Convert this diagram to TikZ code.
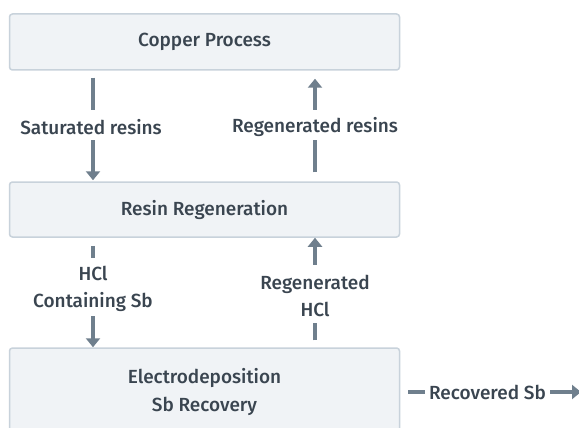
\documentclass[tikz,border=0pt]{standalone}
\usepackage{fontspec}
\setmainfont{Fira Sans}[UprightFont=* Medium]
\usetikzlibrary{arrows.meta}
\definecolor{boxfill}{HTML}{F0F3F6}
\definecolor{boxline}{HTML}{C8D2DB}
\definecolor{conncol}{HTML}{6F7F8D}
\definecolor{txtcol}{HTML}{3A4550}
\begin{document}
\begin{tikzpicture}[x=1pt,y=1pt,
  procbox/.style={draw=boxline, line width=1.5pt, fill=boxfill, rounded corners=3pt, text=txtcol, font=\fontsize{19}{28}\selectfont, align=center},
  lbl/.style={text=txtcol, font=\fontsize{19}{27}\selectfont, align=center, inner sep=0pt},
  conn/.style={draw=conncol, line width=4pt},
  tip/.style={-{Triangle[width=14pt,length=9pt]}}
]
\clip (0,0) rectangle (579,-428);
\fill[white] (0,0) rectangle (579,-428);
% boxes
\node[procbox, minimum width=390pt, minimum height=56pt] (cu) at (204.5,-42) {Copper Process};
\node[procbox, minimum width=390pt, minimum height=55pt] (rr) at (204.5,-209.5) {Resin Regeneration};
\node[procbox, minimum width=390pt, minimum height=88pt] (ed) at (204.5,-392) {Electrodeposition\\Sb Recovery};
% labels
\node[lbl, minimum height=34pt] (sat) at (91,-127) {Saturated resins};
\node[lbl, minimum height=34pt] (regres) at (315,-127) {Regenerated resins};
\node[lbl, minimum height=61pt] (hcl) at (93,-288.5) {HCl\\Containing Sb};
\node[lbl, minimum height=61pt] (reghcl) at (315,-295.5) {Regenerated\\HCl};
\node[lbl, inner sep=4pt] (rec) at (487.5,-392) {Recovered Sb};
\coordinate (out) at (581,-392);
% connectors
\draw[conn, shorten <=7pt] (cu.south -| 93,0) -- (sat.north -| 93,0);
\draw[conn, tip, shorten <=-4pt, shorten >=1pt] (sat.south -| 93,0) -- (rr.north -| 93,0);
\draw[conn, shorten <=9pt, shorten >=-4pt] (rr.north -| regres.south) -- (regres.south);
\draw[conn, tip, shorten >=8pt] (regres.north) -- (cu.south -| regres.north);
\draw[conn, shorten <=8pt] (rr.south -| hcl.north) -- (hcl.north);
\draw[conn, tip, shorten <=-3pt, shorten >=0pt] (hcl.south) -- (ed.north -| hcl.south);
\draw[conn, shorten <=7pt, shorten >=-3pt] (ed.north -| reghcl.south) -- (reghcl.south);
\draw[conn, tip, shorten >=0pt] (reghcl.north) -- (rr.south -| reghcl.north);
\draw[conn, shorten <=8pt] (ed.east) -- (rec.west);
\draw[conn, tip] (rec.east) -- (out);
\end{tikzpicture}
\end{document}
